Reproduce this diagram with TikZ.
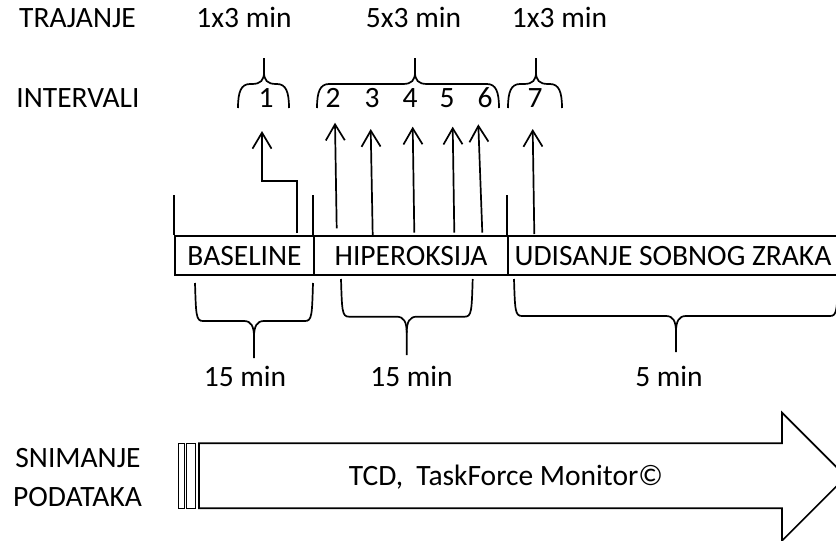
\documentclass[tikz,border=0pt]{standalone}
\usepackage{fontspec}
\setmainfont{Carlito}
\usepackage{tikz}
\usetikzlibrary{arrows.meta}

\tikzset{
  txt/.style={font=\fontsize{29.5}{34}\selectfont, inner sep=0pt, anchor=base},
  seg/.style={draw, line width=1.8pt, font=\fontsize{29.5}{34}\selectfont,
    text height=19pt, text depth=0pt, minimum height=39pt, inner sep=0pt},
  arr/.style={line width=1.7pt, -{Straight Barb[length=16pt,width=19pt]}},
  brc/.style={line width=1.7pt},
}

% brace above the intervals: left x, tip x, right x
\newcommand{\topbrace}[3]{%
  \draw[brc] (#1,108) .. controls (#1,92) and (#1+3,84) .. (#1+12,84) -- (#2-12,84)
    .. controls (#2-3,84) and (#2,80) .. (#2,72) -- (#2,58);
  \draw[brc] (#3,108) .. controls (#3,92) and (#3-3,84) .. (#3-12,84) -- (#2+12,84)
    .. controls (#2+3,84) and (#2,80) .. (#2,72);
}
% brace below the phases: left x, tip x, right x, top y, middle y, tip y
\newcommand{\botbrace}[6]{%
  \draw[brc] (#1,#4) .. controls (#1+1,#5-6) and (#1+1,#5) .. (#1+8,#5) -- (#2-10,#5)
    .. controls (#2-3,#5) and (#2,#5+5) .. (#2,#5+16) -- (#2,#6);
  \draw[brc] (#3,#4) .. controls (#3-1,#5-6) and (#3-1,#5) .. (#3-8,#5) -- (#2+10,#5)
    .. controls (#2+3,#5) and (#2,#5+5) .. (#2,#5+16);
}

\begin{document}
\begin{tikzpicture}[x=1pt, y=-1pt]
  \useasboundingbox (0,0) rectangle (836,541);

  % headings
  \node[txt] (traj) at (77.5,27) {TRAJANJE};
  \node[txt] (d1) at (244,27) {1x3 min};
  \node[txt] (d2) at (413.5,27) {5x3 min};
  \node[txt] (d3) at (559.5,27) {1x3 min};
  \node[txt] (intv) at (78,107) {INTERVALI};
  \foreach \i/\x in {1/266, 2/333, 3/372, 4/410, 5/447, 6/485, 7/535}
    \node[txt] (n\i) at (\x,107.5) {\i};
  \topbrace{238}{264}{289}
  \topbrace{317}{415}{499}
  \topbrace{508}{536}{562}

  % phases
  \node[seg, minimum width=139pt] (bl) at (244.5,255.5) {BASELINE};
  \node[seg, minimum width=194pt] (hip) at (411,255.5) {HIPEROKSIJA};
  \node[seg, minimum width=330pt] (udis) at (673,255.5) {UDISANJE SOBNOG ZRAKA};
  \coordinate (lim) at (0,195);
  \foreach \n in {bl, hip, udis}
    \draw[brc] (\n.north west) -- (\n.north west |- lim);

  % interval arrows
  \coordinate (b1) at (297,233);
  \coordinate (t1) at (262,131);
  \draw[arr] (b1) -- ++(0,-52) -| (t1);
  \foreach \i/\xb/\yb/\xt/\yt in {2/336.7/228.3/335/122.7, 3/372.7/235/370.7/129,
      4/414.3/232.7/412.7/126.7, 5/454.3/232.7/452.7/126.7,
      6/482.3/232.7/478.3/124.3, 7/534.3/234/532.7/129} {
    \coordinate (b\i) at (\xb,\yb);
    \coordinate (t\i) at (\xt,\yt);
    \draw[arr] (b\i) -- (t\i);
  }

  % durations
  \botbrace{195}{254}{313}{283}{321}{358}
  \botbrace{341}{406.7}{472.7}{279}{316.7}{355}
  \botbrace{514}{676}{838}{279}{316}{352}
  \node[txt] (m1) at (245,386.5) {15 min};
  \node[txt] (m2) at (411.5,386.5) {15 min};
  \node[txt] (m3) at (669,386.5) {5 min};

  % recording
  \node[txt] (snim) at (78,467) {SNIMANJE};
  \node[txt] (pod) at (77.5,506) {PODATAKA};
  \draw[line width=1.3pt] (178.5,443.3) rectangle (184.3,508.3);
  \draw[line width=1.3pt] (186.5,443.3) rectangle (195.5,508.3);
  \draw[brc] (199,443.3) -- (782,443.3) -- (782,412.7) -- (846,476.7)
    -- (782,540.7) -- (782,508.3) -- (199,508.3) -- cycle;
  \node[txt] (rec) at (506,485.5) {TCD,\ \ TaskForce Monitor©};
\end{tikzpicture}
\end{document}
